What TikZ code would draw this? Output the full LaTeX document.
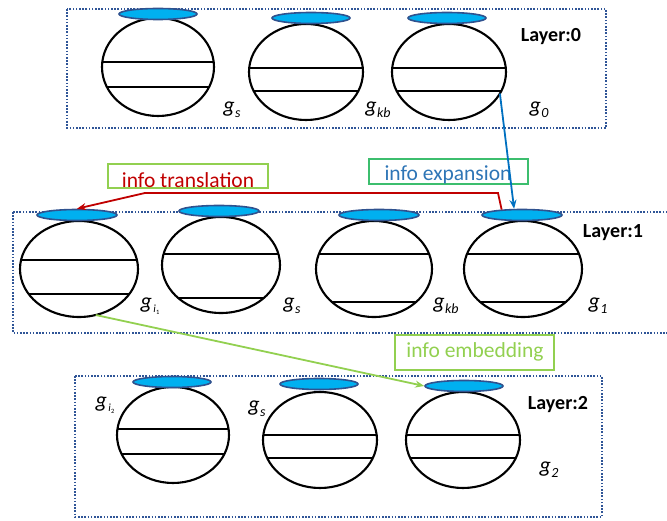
\documentclass[tikz,border=0pt]{standalone}
\usepackage{fontspec}
\setmainfont{Carlito}
\usetikzlibrary{shapes.geometric,arrows.meta}
\definecolor{capfill}{RGB}{0,176,240}
\definecolor{capdraw}{RGB}{47,82,143}
\definecolor{boxblue}{RGB}{47,85,151}
\definecolor{redarr}{RGB}{192,0,0}
\definecolor{bluearr}{RGB}{0,112,192}
\definecolor{greenarr}{RGB}{146,208,80}
\definecolor{greenbox}{RGB}{60,190,110}
\definecolor{bluetext}{RGB}{46,117,182}
\newcommand\gcell[7]{%
  \node[cell, minimum width=2*#4, minimum height=2*#5] (#1) at (#2,#3) {};
  \begin{scope}
    \clip (#2,#3) ellipse [x radius=#4, y radius=#5];
    \draw[chord] (#2-#4,#6) -- (#2+#4,#6);
    \draw[chord] (#2-#4,#7) -- (#2+#4,#7);
  \end{scope}}
\newcommand\glab[1]{\textit{g}\kern0.5pt\raisebox{-0.45ex}{\fontsize{14}{14}\selectfont\textit{#1}}}
\newcommand\glabi[1]{\textit{g}\kern1.5pt\raisebox{-0.45ex}{\fontsize{11}{11}\selectfont\textit{i}\raisebox{-0.35ex}{\fontsize{6.5}{6.5}\selectfont #1}}}
\begin{document}
\begin{tikzpicture}[x=1pt,y=-1pt,
  cell/.style={ellipse, draw=black, line width=2.1pt, inner sep=0pt, outer sep=0pt},
  chord/.style={draw=black, line width=1.9pt},
  capov/.style={ellipse, draw=capdraw, fill=capfill, line width=1.6pt, inner sep=0pt, minimum width=78pt, minimum height=11pt},
  layerbox/.style={draw=boxblue, line width=2pt, dash pattern=on 1.6pt off 1.6pt},
  glabel/.style={font=\fontsize{22}{22}\selectfont, inner sep=0pt},
  layerlab/.style={font=\fontsize{20}{20}\selectfont\bfseries, inner sep=0pt},
  infobox/.style={draw, line width=1.2pt, inner sep=0pt},
  infotext/.style={font=\fontsize{21.5}{21.5}\selectfont, inner sep=0pt},
  arr/.style={line width=1.8pt, -{Stealth[length=9pt,width=7pt]}}
]
\useasboundingbox (0,0) rectangle (667,521);

% ---------- layer boxes
\draw[layerbox] (67,9) rectangle (606,128);
\draw[layerbox] (13,212) rectangle (672,333);
\draw[layerbox] (75,376) rectangle (602,517);

% ---------- Layer 0
\gcell{e0s}{158}{67}{56}{49}{62}{87}
\gcell{e0kb}{306}{72}{57}{48}{68}{91}
\gcell{e0g}{449}{72}{57}{48}{68}{91}
\node[capov] (c0s) at (158,14) {};
\node[capov] (c0kb) at (311,18) {};
\node[capov] (c0g) at (447,18) {};
\node[glabel] (l0s) at (232,110) {\glab{s}};
\node[glabel] (l0kb) at (378,110) {\glab{kb}};
\node[glabel] (l0g) at (539,110) {\glab{0}};
\node[layerlab] (L0) at (551,37) {Layer:0};

% ---------- Layer 1
\gcell{e1i}{79}{269}{59}{48}{260}{294}
\gcell{e1s}{221}{265}{59}{48}{254}{298}
\gcell{e1kb}{374}{269}{58}{48}{254}{302}
\gcell{e1g}{523}{269}{59}{48}{254}{302}
\node[capov, minimum width=80pt] (c1i) at (77,215) {};
\node[capov, minimum width=80pt] (c1s) at (219,211) {};
\node[capov, minimum width=80pt] (c1kb) at (379,215) {};
\node[capov, minimum width=80pt] (c1g) at (522,215) {};
\node[glabel] (l1i) at (150,306) {\glabi{1}};
\node[glabel] (l1s) at (292,306) {\glab{s}};
\node[glabel] (l1kb) at (446,306) {\glab{kb}};
\node[glabel] (l1g) at (598,306) {\glab{1}};
\node[layerlab] (L1) at (613,233) {Layer:1};

% ---------- Layer 2
\gcell{e2i}{173}{435}{56}{48}{429}{454}
\gcell{e2s}{320}{440}{57}{48}{435}{458}
\gcell{e2g}{463}{440}{57}{48}{435}{458}
\node[capov] (c2i) at (172,382) {};
\node[capov] (c2s) at (319,384) {};
\node[capov] (c2g) at (464,386) {};
\node[glabel] (l2i) at (105,405) {\glabi{2}};
\node[glabel] (l2s) at (257,409) {\glab{s}};
\node[glabel] (l2g) at (549,470) {\glab{2}};
\node[layerlab] (L2) at (558,405) {Layer:2};

% ---------- info boxes
\node[infobox, draw=greenarr, minimum width=160pt, minimum height=24pt] (bt) at (188,176) {};
\node[infotext, text=redarr] (tt) at (188,180) {info translation};
\node[infobox, draw=greenbox, minimum width=159pt, minimum height=25pt] (be) at (448.5,171.5) {};
\node[infotext, text=bluetext] (te) at (448,175) {info expansion};
\node[infobox, draw=greenarr, minimum width=159pt, minimum height=35pt] (bm) at (474.5,352.5) {};
\node[infotext, text=greenarr] (tm) at (475,352) {info embedding};

% ---------- connectors
\coordinate (r1) at (498,193);
\coordinate (r2) at (145,193);
\draw[arr, draw=redarr] (c1g.165) -- (r1) -- (r2) -- (c1i.north);
\draw[arr, draw=bluearr] (e0g.-23) -- (c1g.142);
\draw[arr, draw=greenarr] (e1i.-70) -- (c2g.west);
\end{tikzpicture}
\end{document}
